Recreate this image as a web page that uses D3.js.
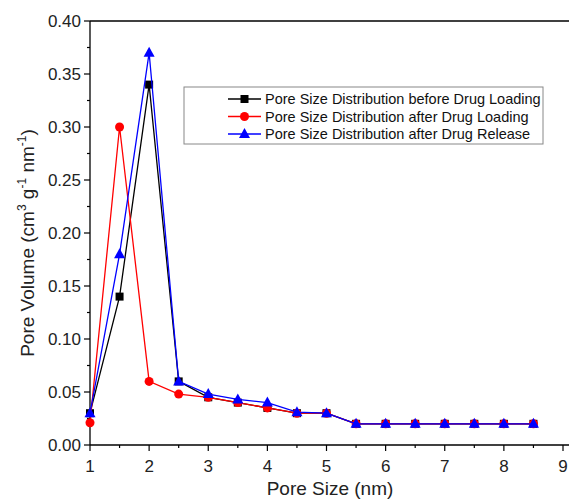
<!DOCTYPE html>
<html>
<head>
<meta charset="utf-8">
<script src="https://cdn.jsdelivr.net/npm/d3@7"></script>
<style>
  body { margin: 0; background: #fff; }
  svg text { font-family: "Liberation Sans", Arial, sans-serif; }
</style>
</head>
<body>
<svg id="chart" width="569" height="500"></svg>
<script>
const poreSize = [1, 1.5, 2, 2.5, 3, 3.5, 4, 4.5, 5, 5.5, 6, 6.5, 7, 7.5, 8, 8.5];
const beforeLoading = [0.03, 0.14, 0.34, 0.06, 0.045, 0.04, 0.035, 0.03, 0.03, 0.02, 0.02, 0.02, 0.02, 0.02, 0.02, 0.02];
const afterLoading = [0.021, 0.30, 0.06, 0.048, 0.045, 0.04, 0.035, 0.03, 0.03, 0.02, 0.02, 0.02, 0.02, 0.02, 0.02, 0.02];
const afterRelease = [0.03, 0.18, 0.37, 0.06, 0.048, 0.043, 0.04, 0.031, 0.03, 0.02, 0.02, 0.02, 0.02, 0.02, 0.02, 0.02];
const seriesNames = [
  'Pore Size Distribution before Drug Loading',
  'Pore Size Distribution after Drug Loading',
  'Pore Size Distribution after Drug Release'
];
const colors = ['#000000', '#ff0000', '#0000ff'];
const shapes = ['square', 'circle', 'triangle'];

const svg = d3.select('svg#chart');
const margin = { top: 21, right: 0, bottom: 55, left: 90 };

const x = d3.scaleLinear().domain([1, 9]).range([margin.left, 563]);
const y = d3.scaleLinear().domain([0, 0.4]).range([445, margin.top]);

// top frame line runs to the edge
svg.append('line').attr('x1', margin.left).attr('x2', 569)
    .attr('y1', y(0.4)).attr('y2', y(0.4)).attr('stroke', '#000').attr('stroke-width', 1.3);

// x axis
const xMajor = d3.range(1, 10, 1);
const xMinor = d3.range(1.5, 9, 1);
const xAxis = svg.append('g').attr('transform', `translate(0,${y(0)})`);
xAxis.append('line').attr('x1', margin.left).attr('x2', 569).attr('stroke', '#000').attr('stroke-width', 1.3);
xAxis.selectAll('.maj').data(xMajor).join('line').attr('class', 'maj')
    .attr('x1', d => x(d)).attr('x2', d => x(d)).attr('y1', 0).attr('y2', 6)
    .attr('stroke', '#000').attr('stroke-width', 1.2);
xAxis.selectAll('.min').data(xMinor).join('line').attr('class', 'min')
    .attr('x1', d => x(d)).attr('x2', d => x(d)).attr('y1', 0).attr('y2', 3)
    .attr('stroke', '#000').attr('stroke-width', 1.2);
xAxis.selectAll('text').data(xMajor).join('text')
    .attr('x', d => x(d)).attr('y', 27)
    .attr('text-anchor', 'middle').attr('font-size', 17).attr('fill', '#222')
    .text(d => d);

// y axis
const yMajor = d3.range(0, 0.4001, 0.05);
const yMinor = d3.range(0.025, 0.4, 0.05);
const yAxis = svg.append('g').attr('transform', `translate(${margin.left},0)`);
yAxis.append('line').attr('y1', y(0)).attr('y2', y(0.4)).attr('stroke', '#000').attr('stroke-width', 1.3);
yAxis.selectAll('.maj').data(yMajor).join('line').attr('class', 'maj')
    .attr('y1', d => y(d)).attr('y2', d => y(d)).attr('x1', 0).attr('x2', -6)
    .attr('stroke', '#000').attr('stroke-width', 1.2);
yAxis.selectAll('.min').data(yMinor).join('line').attr('class', 'min')
    .attr('y1', d => y(d)).attr('y2', d => y(d)).attr('x1', 0).attr('x2', -3)
    .attr('stroke', '#000').attr('stroke-width', 1.2);
yAxis.selectAll('text').data(yMajor).join('text')
    .attr('x', -9).attr('y', d => y(d)).attr('dy', '0.35em')
    .attr('text-anchor', 'end').attr('font-size', 17).attr('fill', '#222')
    .text(d => d.toFixed(2));

// axis titles
svg.append('text').attr('x', 330).attr('y', 495)
    .attr('text-anchor', 'middle').attr('font-size', 19).attr('fill', '#222')
    .text('Pore Size (nm)');
const yt = svg.append('text')
    .attr('transform', 'translate(34,243) rotate(-90)')
    .attr('text-anchor', 'middle').attr('font-size', 19).attr('fill', '#222');
yt.append('tspan').text('Pore Volume (cm');
yt.append('tspan').attr('font-size', 12).attr('dy', -8).text('3');
yt.append('tspan').attr('dy', 8).text(' g');
yt.append('tspan').attr('font-size', 12).attr('dy', -8).text('-1');
yt.append('tspan').attr('dy', 8).text(' nm');
yt.append('tspan').attr('font-size', 12).attr('dy', -8).text('-1');
yt.append('tspan').attr('dy', 8).text(')');

function drawMarker(g, shape, color, cx, cy) {
  if (shape === 'square') {
    g.append('rect').attr('x', cx - 4).attr('y', cy - 4).attr('width', 8).attr('height', 8).attr('fill', color);
  } else if (shape === 'circle') {
    g.append('circle').attr('cx', cx).attr('cy', cy).attr('r', 4.5).attr('fill', color);
  } else {
    g.append('path').attr('d', `M${cx},${cy - 6}L${cx + 5.5},${cy + 4}L${cx - 5.5},${cy + 4}Z`).attr('fill', color);
  }
}

const allSeries = [beforeLoading, afterLoading, afterRelease];
const line = d3.line().x((d, i) => x(poreSize[i])).y(d => y(d));
allSeries.forEach((values, k) => {
  const g = svg.append('g');
  g.append('path').datum(values).attr('d', line)
      .attr('fill', 'none').attr('stroke', colors[k]).attr('stroke-width', 1.3);
  values.forEach((v, i) => drawMarker(g, shapes[k], colors[k], x(poreSize[i]), y(v)));
});

// legend
const legend = svg.append('g').attr('transform', 'translate(184,87)');
legend.append('rect').attr('width', 359).attr('height', 57)
    .attr('fill', '#fff').attr('stroke', '#888').attr('stroke-width', 1);
seriesNames.forEach((name, k) => {
  const ly = 12 + k * 17.5;
  legend.append('line').attr('x1', 44).attr('x2', 77).attr('y1', ly).attr('y2', ly)
      .attr('stroke', colors[k]).attr('stroke-width', 1.3);
  drawMarker(legend, shapes[k], colors[k], 60.5, ly);
  legend.append('text').attr('x', 81).attr('y', ly).attr('dy', '0.36em')
      .attr('font-size', 14.5).attr('fill', '#111').text(name);
});
</script>
</body>
</html>
